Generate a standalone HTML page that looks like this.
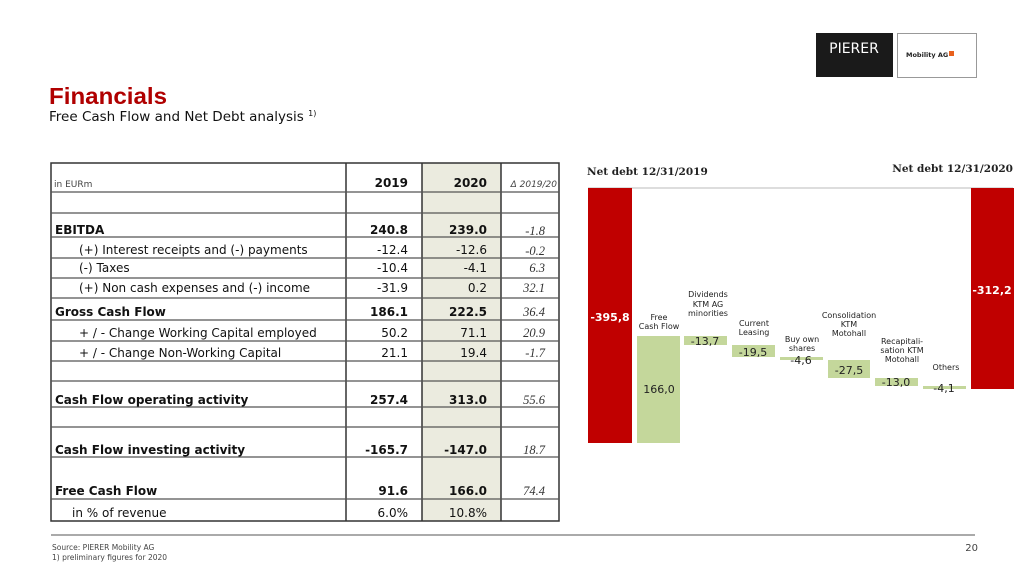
<!DOCTYPE html>
<html><head><meta charset="utf-8"><style>
body{margin:0;width:1024px;height:576px;background:#fff;overflow:hidden;position:relative;font-family:"DejaVu Sans","Liberation Sans",sans-serif}
</style></head><body>
<svg width="1024" height="576" viewBox="0 0 1024 576" xmlns="http://www.w3.org/2000/svg" style="position:absolute;left:0;top:0">
<!-- logo -->
<rect x="816" y="33" width="77" height="44" fill="#1a1a1a"/>
<text x="854" y="53" fill="#fff" font-family="DejaVu Sans" font-size="14" text-anchor="middle">PIERER</text>
<rect x="897.5" y="33.5" width="79" height="44" fill="#fff" stroke="#999"/>
<text x="906" y="57" font-size="6.5" font-weight="bold" fill="#222">Mobility AG</text>
<rect x="949" y="51" width="5" height="5" fill="#e8601c"/>
<!-- title -->
<text x="49" y="104" fill="#b00000" font-family="Liberation Sans" font-weight="bold" font-size="23" textLength="118" lengthAdjust="spacingAndGlyphs">Financials</text>
<text x="49" y="121" fill="#111" font-size="13.5">Free Cash Flow and Net Debt analysis <tspan font-size="8" dy="-5">1)</tspan></text>
<!-- table -->
<rect x="422" y="163" width="79" height="358" fill="#ebebdf"/>
<g stroke="#333" stroke-width="1.5" fill="none">
<rect x="51" y="163" width="508" height="358"/>
<line x1="346" y1="163" x2="346" y2="521"/><line x1="422" y1="163" x2="422" y2="521"/><line x1="501" y1="163" x2="501" y2="521"/>
</g>
<g stroke="#555" stroke-width="1.2">
<line x1="51" y1="192" x2="559" y2="192"/><line x1="51" y1="213" x2="559" y2="213"/><line x1="51" y1="237" x2="559" y2="237"/>
<line x1="51" y1="258" x2="559" y2="258"/><line x1="51" y1="278" x2="559" y2="278"/><line x1="51" y1="298" x2="559" y2="298"/>
<line x1="51" y1="320" x2="559" y2="320"/><line x1="51" y1="341" x2="559" y2="341"/><line x1="51" y1="361" x2="559" y2="361"/>
<line x1="51" y1="381" x2="559" y2="381"/><line x1="51" y1="407" x2="559" y2="407"/><line x1="51" y1="427" x2="559" y2="427"/>
<line x1="51" y1="457" x2="559" y2="457"/><line x1="51" y1="499" x2="559" y2="499"/>
</g>
<g font-size="12" fill="#111">
<text x="54" y="187" font-size="9" fill="#444">in EURm</text>
<text x="408" y="187" text-anchor="end" font-weight="bold">2019</text>
<text x="487" y="187" text-anchor="end" font-weight="bold">2020</text>
<text x="557" y="187" text-anchor="end" font-size="9" font-style="italic" fill="#444">Δ 2019/20</text>
<g font-weight="bold">
<text x="55" y="234">EBITDA</text>
<text x="55" y="316">Gross Cash Flow</text>
<text x="55" y="404">Cash Flow operating activity</text>
<text x="55" y="454">Cash Flow investing activity</text>
<text x="55" y="495">Free Cash Flow</text>
</g>
<text x="79" y="254">(+) Interest receipts and (-) payments</text>
<text x="79" y="272">(-) Taxes</text>
<text x="79" y="292">(+) Non cash expenses and (-) income</text>
<text x="79" y="337">+ / -  Change Working Capital employed</text>
<text x="79" y="357">+ / -  Change Non-Working Capital</text>
<text x="72" y="517">in % of revenue</text>
<g text-anchor="end">
<text x="408" y="234" font-weight="bold">240.8</text><text x="487" y="234" font-weight="bold">239.0</text>
<text x="408" y="254">-12.4</text><text x="487" y="254">-12.6</text>
<text x="408" y="272">-10.4</text><text x="487" y="272">-4.1</text>
<text x="408" y="292">-31.9</text><text x="487" y="292">0.2</text>
<text x="408" y="316" font-weight="bold">186.1</text><text x="487" y="316" font-weight="bold">222.5</text>
<text x="408" y="337">50.2</text><text x="487" y="337">71.1</text>
<text x="408" y="357">21.1</text><text x="487" y="357">19.4</text>
<text x="408" y="404" font-weight="bold">257.4</text><text x="487" y="404" font-weight="bold">313.0</text>
<text x="408" y="454" font-weight="bold">-165.7</text><text x="487" y="454" font-weight="bold">-147.0</text>
<text x="408" y="495" font-weight="bold">91.6</text><text x="487" y="495" font-weight="bold">166.0</text>
<text x="408" y="517">6.0%</text><text x="487" y="517">10.8%</text>
</g>
<g text-anchor="end" font-family="Liberation Serif" font-style="italic" font-size="12.5" fill="#333">
<text x="545" y="235">-1.8</text><text x="545" y="255">-0.2</text><text x="545" y="272">6.3</text>
<text x="545" y="292">32.1</text><text x="545" y="316">36.4</text><text x="545" y="337">20.9</text>
<text x="545" y="357">-1.7</text><text x="545" y="404">55.6</text><text x="545" y="454">18.7</text><text x="545" y="495">74.4</text>
</g>
</g>
<!-- chart -->
<line x1="588" y1="188" x2="1013" y2="188" stroke="#bbb"/>
<text x="587" y="175" font-family="DejaVu Serif" font-weight="bold" font-size="10.5" fill="#222">Net debt 12/31/2019</text>
<text x="1013" y="172" text-anchor="end" font-family="DejaVu Serif" font-weight="bold" font-size="10.5" fill="#222">Net debt 12/31/2020</text>
<rect x="588" y="188" width="44" height="255" fill="#c00000"/>
<rect x="971" y="188" width="43" height="201" fill="#c00000"/>
<g fill="#c4d79b">
<rect x="637" y="336" width="43" height="107"/>
<rect x="684" y="336" width="43" height="9"/>
<rect x="732" y="345" width="43" height="12"/>
<rect x="780" y="357" width="43" height="3"/>
<rect x="828" y="360" width="42" height="18"/>
<rect x="875" y="378" width="43" height="8"/>
<rect x="923" y="386" width="43" height="3"/>
</g>
<g font-size="11" text-anchor="middle">
<text x="610" y="321" fill="#fff" font-weight="bold">-395,8</text>
<text x="992" y="294" fill="#fff" font-weight="bold">-312,2</text>
<text x="659" y="393" fill="#222">166,0</text>
<text x="705" y="345" fill="#222">-13,7</text>
<text x="753" y="356" fill="#222">-19,5</text>
<text x="801" y="364" fill="#222">-4,6</text>
<text x="849" y="374" fill="#222">-27,5</text>
<text x="896" y="386" fill="#222">-13,0</text>
<text x="944" y="392" fill="#222">-4,1</text>
</g>
<g font-size="8" text-anchor="middle" fill="#222">
<text x="659" y="320">Free</text><text x="659" y="329">Cash Flow</text>
<text x="708" y="297">Dividends</text><text x="708" y="307">KTM AG</text><text x="708" y="316">minorities</text>
<text x="754" y="326">Current</text><text x="754" y="335">Leasing</text>
<text x="802" y="342">Buy own</text><text x="802" y="351">shares</text>
<text x="849" y="318">Consolidation</text><text x="849" y="327">KTM</text><text x="849" y="336">Motohall</text>
<text x="902" y="344">Recapitali-</text><text x="902" y="353">sation KTM</text><text x="902" y="362">Motohall</text>
<text x="946" y="370">Others</text>
</g>
<!-- footer -->
<line x1="51" y1="535" x2="975" y2="535" stroke="#555"/>
<text x="52" y="550" font-size="7.5" fill="#444">Source: PIERER Mobility AG</text>
<text x="52" y="560" font-size="7.5" fill="#444">1) preliminary figures for 2020</text>
<text x="978" y="551" text-anchor="end" font-size="10" fill="#444">20</text>
</svg>
</body></html>
